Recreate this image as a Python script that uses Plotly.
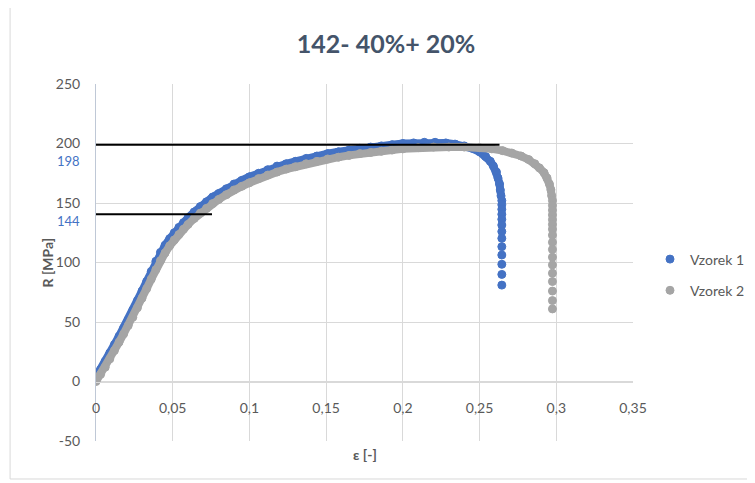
import plotly.graph_objects as go

# ---------------- data ----------------
x_ticks = [0, 0.05, 0.1, 0.15, 0.2, 0.25, 0.3, 0.35]
x_ticklabels = ["0", "0,05", "0,1", "0,15", "0,2", "0,25", "0,3", "0,35"]
y_ticks = [-50, 0, 50, 100, 150, 200, 250]
y_ticklabels = ["-50", "0", "50", "100", "150", "200", "250"]

# Vzorek 1 (strain, stress)
eps1 = [0.000, 0.003, 0.006, 0.009, 0.012, 0.015, 0.018, 0.021, 0.024, 0.027,
        0.030, 0.033, 0.036, 0.039, 0.042, 0.045, 0.048, 0.051, 0.054, 0.057,
        0.060, 0.064, 0.068, 0.072, 0.076, 0.080, 0.085, 0.090, 0.095, 0.100,
        0.106, 0.112, 0.118, 0.124, 0.130, 0.137, 0.144, 0.151, 0.158, 0.165,
        0.172, 0.179, 0.186, 0.193, 0.200, 0.207, 0.214, 0.221, 0.228, 0.234,
        0.240, 0.245, 0.250, 0.254, 0.257, 0.259, 0.261, 0.262, 0.263, 0.2635,
        0.264,
        0.2645, 0.2645, 0.2645, 0.2645, 0.2645, 0.2645, 0.2645, 0.2645, 0.2645,
        0.2645, 0.2645, 0.2645, 0.2645]
r1 = [4, 10, 17, 24, 31, 38, 45, 52, 60, 68,
      76, 84, 92.5, 101, 108.5, 114.5, 120, 125, 129.5, 133.5,
      137.5, 142.5, 147, 151, 155, 158, 162, 166, 169, 172,
      175, 178, 181, 183, 185, 187.5, 189.5, 191.5, 193, 194.5,
      196, 197, 198, 199, 200, 200.5, 201, 201, 200.5, 199.5,
      198, 196, 193, 189, 185, 181, 176, 171, 166, 161,
      156,
      152, 148.5, 144.7, 140.5, 136.3, 131.5, 126, 120.3, 113.3,
      106.3, 98.5, 90, 81]
n_cont1 = 61  # points forming the continuous part of the curve

# Vzorek 2 (strain, stress)
eps2 = [0.000, 0.003, 0.006, 0.009, 0.012, 0.015, 0.018, 0.021, 0.024, 0.027,
        0.030, 0.033, 0.036, 0.039, 0.042, 0.045, 0.048, 0.051, 0.054, 0.057,
        0.060, 0.064, 0.068, 0.072, 0.076, 0.080, 0.085, 0.090, 0.095, 0.100,
        0.106, 0.112, 0.118, 0.124, 0.130, 0.137, 0.144, 0.151, 0.158, 0.165,
        0.172, 0.179, 0.186, 0.193, 0.200, 0.210, 0.220, 0.230, 0.240, 0.250,
        0.258, 0.265, 0.271, 0.277, 0.282, 0.286, 0.289, 0.292, 0.294, 0.2955,
        0.2965, 0.297,
        0.2975, 0.2975, 0.2975, 0.2975, 0.2975, 0.2975, 0.2975, 0.2975, 0.2975,
        0.2975, 0.2975, 0.2975, 0.2975, 0.2975, 0.2975, 0.2975, 0.2975]
r2 = [0, 6, 12, 19, 26, 33, 40, 47, 54, 62,
      70, 78, 86, 94, 101.5, 108, 114, 119, 123.5, 128,
      132, 137, 141.5, 145.5, 149.5, 153, 157, 161, 164, 167,
      170.5, 173.5, 176, 178.5, 180.5, 183, 185, 187, 188.5, 190,
      191.5, 192.5, 193.5, 194.5, 195.5, 196.5, 197, 197, 197, 196.5,
      195.5, 194, 192, 189.5, 186.5, 183, 179.5, 175.5, 171, 166,
      161, 156,
      152, 148, 144, 140, 136, 132, 128, 123, 117, 111,
      104.5, 98, 91, 84, 76, 68, 61]
n_cont2 = 62

# reference lines (strain range, stress level)
ref_x1 = [0, 0.263]
ref_y1 = [199, 199]
ref_x2 = [0, 0.0756]
ref_y2 = [140.5, 140.5]
ref_labels = ["198", "144"]
ref_label_y = [185.5, 135.0]

names = ["Vzorek 1", "Vzorek 2"]
colors = ["#4472C4", "#A5A5A5"]

# ---------------- figure ----------------
FONT = "Lato, 'Open Sans', sans-serif"
TXT = "#595959"
GRID = "#D9D9D9"
W, H = 755, 483
OFF = 8  # page body margin of the html page

fig = go.Figure()

series = [(eps1, r1, n_cont1), (eps2, r2, n_cont2)]
for i, (ex, ry, nc) in enumerate(series):
    fig.add_trace(go.Scatter(
        x=ex[:nc], y=ry[:nc], mode="lines",
        line=dict(color=colors[i], width=8),
        legendgroup=names[i], showlegend=False, hoverinfo="skip"))
    fig.add_trace(go.Scatter(
        x=ex, y=ry, mode="markers", name=names[i],
        legendgroup=names[i],
        marker=dict(color=colors[i], size=8,
                    line=dict(color=colors[i], width=1))))

for xs, ys in [(ref_x1, ref_y1), (ref_x2, ref_y2)]:
    fig.add_trace(go.Scatter(x=xs, y=ys, mode="lines",
                             line=dict(color="black", width=2),
                             showlegend=False, hoverinfo="skip"))

for lab, yv in zip(ref_labels, ref_label_y):
    fig.add_annotation(text=lab, xref="paper", yref="y", x=-0.026, y=yv,
                       xanchor="right", yanchor="middle", showarrow=False,
                       font=dict(family=FONT, size=13, color="#4472C4"))

# axis titles
fig.add_annotation(text="<b>ε [-]</b>", xref="paper", yref="paper",
                   x=0.5, y=-0.039, xanchor="center", yanchor="middle",
                   showarrow=False, font=dict(family=FONT, size=14, color=TXT))
fig.add_annotation(text="<b>R [MPa]</b>", xref="paper", yref="paper",
                   x=-0.0912, y=0.5, xanchor="center", yanchor="middle",
                   textangle=-90, showarrow=False,
                   font=dict(family=FONT, size=14, color=TXT))

# chart-area border
fig.add_shape(type="rect", xref="paper", yref="paper",
              x0=-0.16, x1=1.25, y0=-0.1064, y1=1.26,
              line=dict(color=GRID, width=1), fillcolor="rgba(0,0,0,0)",
              layer="below")

fig.update_layout(
    width=W, height=H,
    margin=dict(l=96 - OFF, r=W - 633 + OFF, t=84 - OFF, b=H - 441 + OFF),
    paper_bgcolor="white", plot_bgcolor="white",
    font=dict(family=FONT, size=14, color=TXT),
    title=dict(text="<b>142- 40%+ 20%</b>", x=(386 - OFF) / W,
               xanchor="center", xref="container",
               y=1 - (44 - OFF) / H, yanchor="middle",
               font=dict(family=FONT, size=25, color="#44546A")),
    xaxis=dict(range=[0, 0.35], tickvals=x_ticks, ticktext=x_ticklabels,
               showgrid=True, gridcolor=GRID, gridwidth=1, zeroline=False,
               showline=True, linecolor=GRID, linewidth=1,
               anchor="free", position=50 / 300, ticks="",
               ticklabelstandoff=14, automargin=False,
               tickfont=dict(family=FONT, size=14, color=TXT)),
    yaxis=dict(range=[-50, 250], tickvals=y_ticks, ticktext=y_ticklabels,
               showgrid=True, gridcolor=GRID, gridwidth=1, zeroline=False,
               showline=True, linecolor="#BFC8D6", linewidth=1, ticks="",
               ticklabelstandoff=12, automargin=False,
               tickfont=dict(family=FONT, size=14, color=TXT)),
    legend=dict(xref="container", yref="container",
                x=(650 - OFF) / W, xanchor="left",
                y=1 - (275 - OFF) / H, yanchor="middle",
                tracegroupgap=10, itemwidth=30,
                font=dict(family=FONT, size=14, color=TXT),
                bgcolor="rgba(0,0,0,0)"),
    showlegend=True,
)

fig.write_html("out.html")
